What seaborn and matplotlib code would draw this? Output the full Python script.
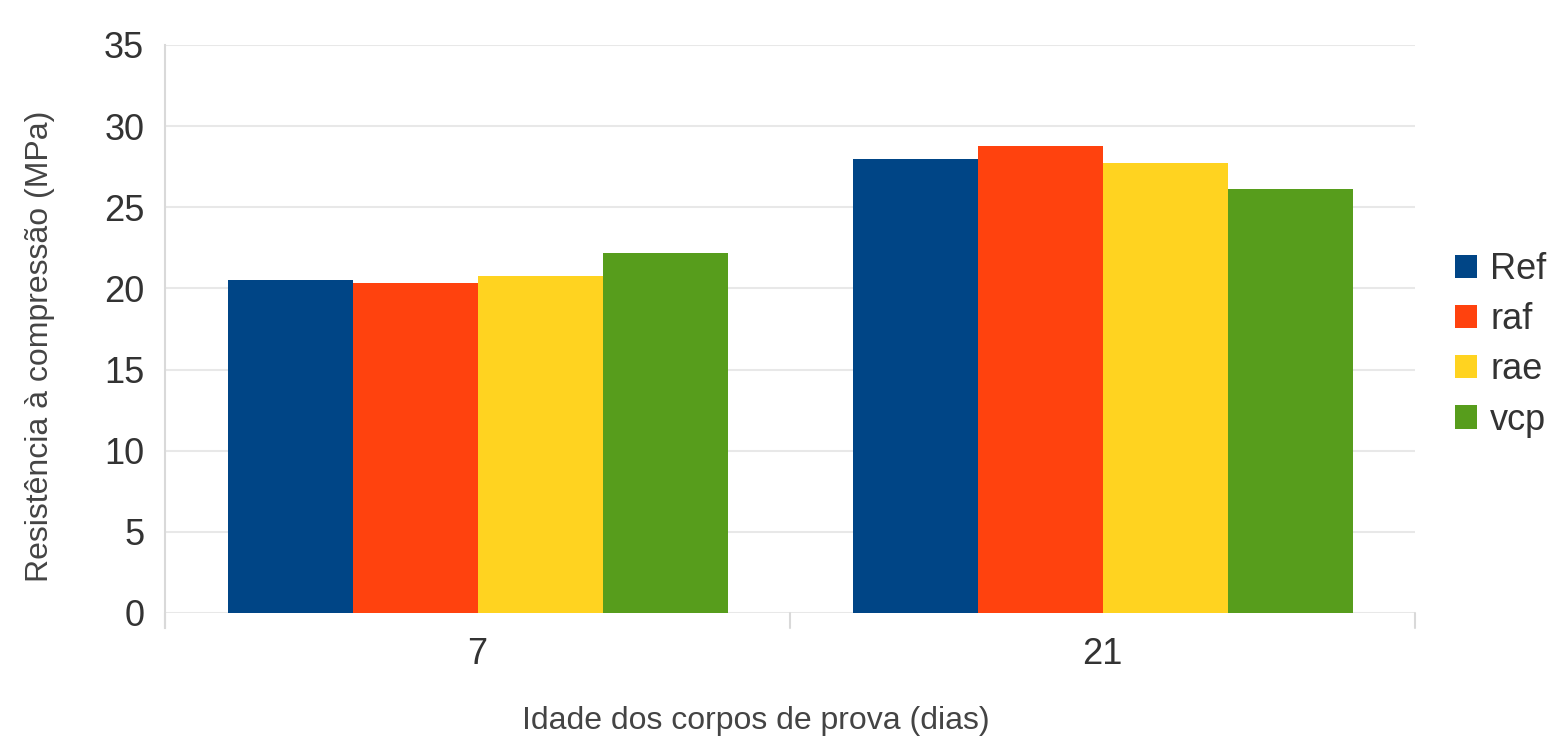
import numpy as np
import pandas as pd
import matplotlib
matplotlib.use("Agg")
import matplotlib.pyplot as plt
import seaborn as sns

# data
idades  = ["7", "21"]
series  = ["Ref", "raf", "rae", "vcp"]
ref_val = [20.55, 27.95]
raf_val = [20.35, 28.75]
rae_val = [20.75, 27.70]
vcp_val = [22.20, 26.10]
yticks  = [0, 5, 10, 15, 20, 25, 30, 35]

cores = ["#004586", "#ff420e", "#ffd320", "#579d1c"]

df = pd.DataFrame({
    "idade": idades * 4,
    "serie": [s for s in series for _ in idades],
    "valor": ref_val + raf_val + rae_val + vcp_val,
})

sns.set_style("white")
plt.rcParams['font.family'] = ['Liberation Sans', 'DejaVu Sans']

fig = plt.figure(figsize=(15.48, 7.42), dpi=100)
ax = fig.add_axes([165/1548, 1-613/742, 1250/1548, 568/742])

sns.barplot(data=df, x="idade", y="valor", hue="serie", order=idades,
            hue_order=series, palette=cores, width=0.8, saturation=1,
            edgecolor="none", ax=ax)

ax.set_xlim(-0.5, 1.5)
ax.set_yticks(yticks)
ax.yaxis.grid(True, color="#e8e8e8", linewidth=1.5)
ax.set_axisbelow(True)

for s in ["top", "right", "bottom"]:
    ax.spines[s].set_visible(False)
ax.spines["left"].set_color("#d9d9d9")
ax.spines["left"].set_linewidth(1.5)
ax.spines["left"].set_bounds(-0.95, 35)
ax.set_ylim(0, 35)

ax.axhline(0, color="#d9d9d9", linewidth=2, zorder=0.5)
for xb in [-0.5, 0.5, 1.5]:
    ax.plot([xb, xb], [0, -0.95], color="#d9d9d9", linewidth=1.5, clip_on=False)

ax.tick_params(axis="y", length=12, width=1.5, color="#d9d9d9", labelsize=26,
               labelcolor="#333333", pad=3)
ax.tick_params(axis="x", length=0, labelsize=26, labelcolor="#333333", pad=17)

ax.set_xlabel("Idade dos corpos de prova (dias)", fontsize=23, color="#444444")
ax.set_ylabel("Resistência à compressão (MPa)", fontsize=23, color="#444444")
ax.xaxis.set_label_coords(0.473, -0.163)
ax.yaxis.set_label_coords(-0.088, 0.47)

ax.legend(loc="center left", bbox_to_anchor=(1.032, 0.472), frameon=False, fontsize=26,
          handlelength=0.62, handleheight=0.62, handletextpad=0.35, labelspacing=0.42,
          borderpad=0, borderaxespad=0, labelcolor="#333333")

fig.savefig("out.png", dpi=100)
